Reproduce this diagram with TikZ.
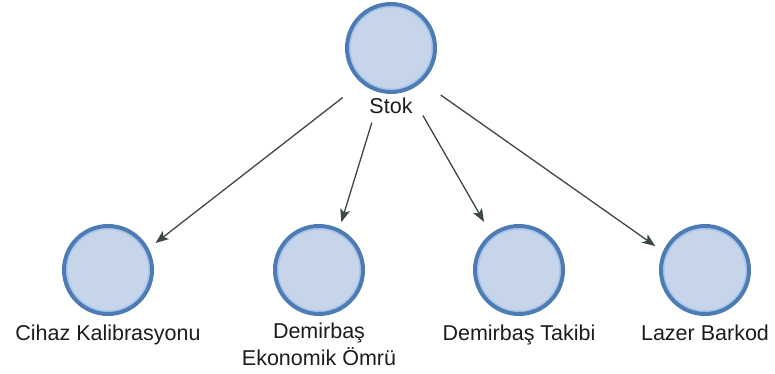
\documentclass[tikz,border=0pt]{standalone}
\usepackage{fontspec}
\setmainfont{Liberation Sans}
\usetikzlibrary{arrows.meta,shapes.geometric}
\definecolor{ringdark}{HTML}{4D7BB4}
\definecolor{ringlight}{HTML}{A9C5EA}
\definecolor{bubble}{HTML}{C6D5EA}
\definecolor{edgecol}{HTML}{3B4846}
\definecolor{txt}{HTML}{1C1C1C}
\tikzset{
  bubblenode/.style={circle, draw=ringdark, line width=4pt, fill=bubble,
    minimum size=88pt, inner sep=0pt,
    path picture={\draw[ringlight, line width=1.6pt]
      (path picture bounding box.center) circle (41.2pt);}},
  caption/.style={font=\fontsize{21.5pt}{27pt}\selectfont, text=txt,
    anchor=base, inner sep=0pt, align=center},
  zone/.style={circle, inner sep=0pt, minimum size=#1},
  zoneell/.style={ellipse, inner sep=0pt},
  link/.style={draw=edgecol, line width=1.3pt,
    -{Stealth[length=13pt, width=10pt, inset=3pt]}}
}
\begin{document}
\begin{tikzpicture}[x=1pt, y=-1pt]
\useasboundingbox (0,0) rectangle (775,374);

% circles
\node[bubblenode] (stok) at (391,48) {};
\node[bubblenode] (cihaz) at (108,270) {};
\node[bubblenode] (ekon) at (319,270) {};
\node[bubblenode] (takip) at (519,270) {};
\node[bubblenode] (lazer) at (705,270) {};

% captions
\node[caption] (stokL) at (391,114) {Stok};
\node[caption] (cihazL) at (108,340) {Cihaz Kalibrasyonu};
\node[caption, anchor=north] (ekonL) at (319,323) {Demirbaş\\Ekonomik Ömrü};
\node[caption] (takipL) at (519,340) {Demirbaş Takibi};
\node[caption] (lazerL) at (705,340) {Lazer Barkod};

% invisible zones around each circle and caption, used as connector ends
\node[zoneell, minimum width=117pt, minimum height=132pt] (gstok) at (391,60) {};
\node[zone=120pt] (gcihaz) at (108,280) {};
\node[zone=152pt] (gekon) at (319,295) {};
\node[zone=136pt] (gtakip) at (518,281) {};
\node[zone=121pt] (glazer) at (705,281) {};

% connectors
\draw[link] (gstok) -- (gcihaz);
\draw[link] (gstok) -- (gekon);
\draw[link] (gstok) -- (gtakip);
\draw[link] (gstok) -- (glazer);
\end{tikzpicture}
\end{document}
